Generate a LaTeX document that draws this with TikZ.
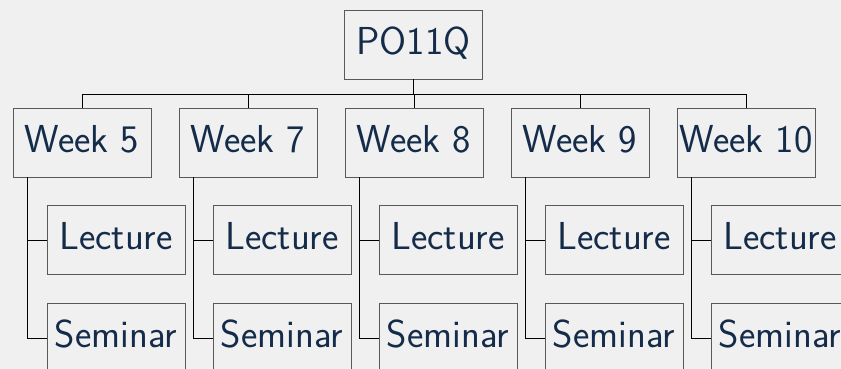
\documentclass[tikz,border=0pt]{standalone}
\usepackage{xcolor}
\definecolor{bg}{HTML}{F0F0F0}
\definecolor{ink}{HTML}{142C4A}
\tikzset{box/.style={draw=black!65, fill=bg, text=ink, minimum width=138pt, minimum height=69pt, inner sep=0pt, text depth=8pt, font=\sffamily\fontsize{39}{46}\selectfont},
  link/.style={line width=0.8pt}}
\begin{document}
\begin{tikzpicture}[x=1pt,y=-1pt]
    \fill[bg] (0,0) rectangle (841,369);
    \useasboundingbox (0,0) rectangle (841,369);
    \node[box] (po) at (413.5,44.5) {PO11Q};
    \coordinate (bar) at (0,94);
    \foreach \w/\x in {5/82,7/248,8/414,9/580,10/746}{
      \node[box] (w\w) at (\x,142.5) {Week \w};
      \node[box] (l\w) at (\x+34,240) {Lecture};
      \node[box] (s\w) at (\x+34,338) {Seminar};
      \draw[link] (w\w.north) -- (w\w.north |- bar);
      \draw[link] ([xshift=-55pt]w\w.south) |- (l\w.west);
      \draw[link] ([xshift=-55pt]w\w.south) |- (s\w.west);
    }
    \draw[link] (po.south) -- (po.south |- bar);
    \draw[link] (w5.north |- bar) -- (w10.north |- bar);
    % \draw[red] (0,0) rectangle (841,369);
  \end{tikzpicture}
\end{document}
